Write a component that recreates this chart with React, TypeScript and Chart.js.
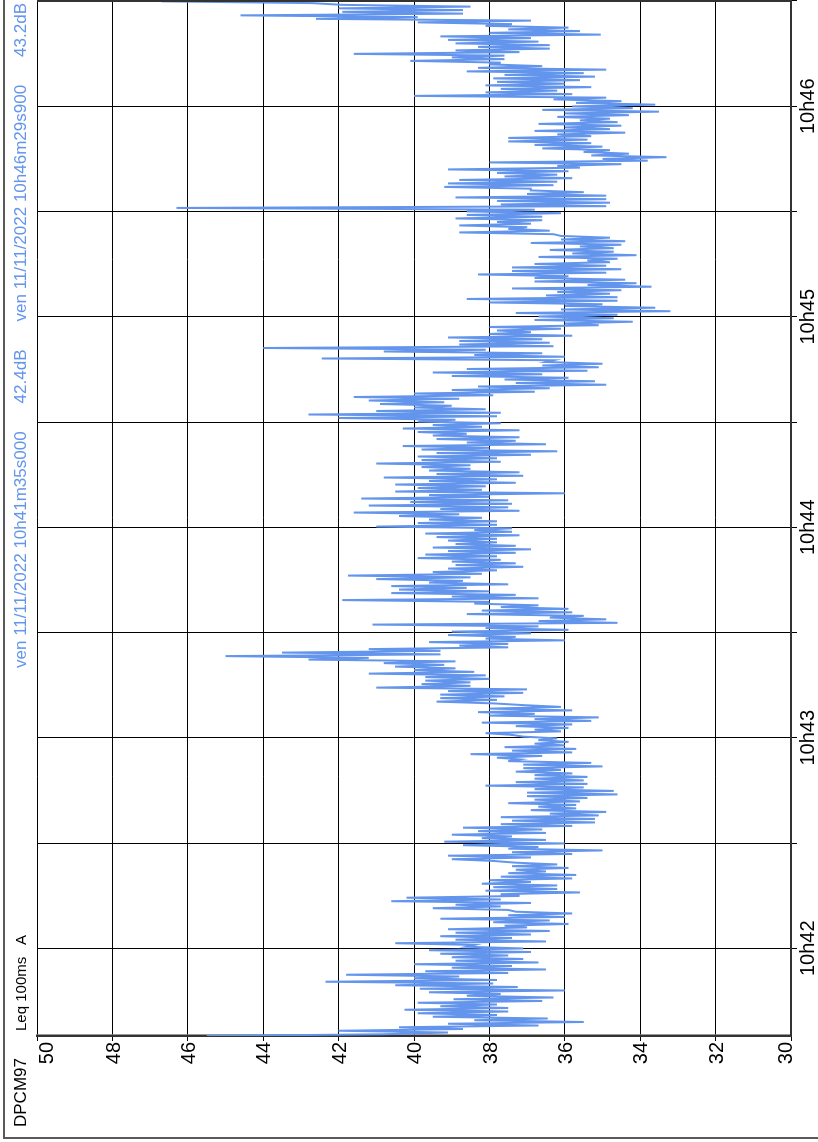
import React, { useEffect, useRef } from "react";
import { Chart, registerables } from "chart.js";

Chart.register(...registerables);

// Time axis in seconds after 10h41m00s
const START_S = 35; // 10h41m35s000
const END_S = 329.9; // 10h46m29s900
const AXIS_MIN_S = 35;
const AXIS_MAX_S = 330;

const gridSeconds = [60, 90, 120, 150, 180, 210, 240, 270, 300, 330];
const minuteSeconds = [60, 120, 180, 240, 300];
const minuteLabels = ["10h42", "10h43", "10h44", "10h45", "10h46"];

const dbTicks = [30, 32, 34, 36, 38, 40, 42, 44, 46, 48, 50];
const dbLabels = ["30", "32", "34", "36", "38", "40", "42", "44", "46", "48", "50"];

const titleStation = "DPCM97";
const titleMeasure = "Leq 100ms";
const titleWeighting = "A";
const headerPieces = [
  "ven 11/11/2022 10h41m35s000",
  "42.4dB",
  "ven 11/11/2022 10h46m29s900",
  "43.2dB",
];

// Leq (dB), newest sample first (10h46m29s900 back to 10h41m35s000)
const leq1046 = [
  46.7, 42.7, 41.9, 38.5, 42.0, 38.7, 41.9, 38.7, 44.6, 39.9, 42.6, 36.9, 39.9, 37.4, 38.1, 35.9,
  37.5, 35.6, 38.0, 35.05, 39.3, 36.9, 39.1, 36.7, 38.9, 36.4, 38.3, 36.4, 38.9, 37.2, 41.6, 37.6,
  39.0, 37.6, 40.1, 37.7, 38.0, 36.6, 38.3, 34.9, 38.6, 35.5, 37.6, 35.2, 37.9, 35.6, 37.8, 36.0,
  38.1, 35.3, 37.7, 36.2, 38.1, 35.8, 40.0, 34.9, 36.3, 34.5, 35.7, 33.6, 35.8, 34.2, 36.6, 33.5,
  36.0, 34.3, 36.2, 34.8, 35.6, 34.6, 36.7, 34.5, 36.0, 34.8, 36.8, 34.4, 36.2, 35.3, 37.5, 35.4,
];
const leq1045b = [
  37.5, 35.3, 36.8, 35.0, 36.6, 34.8, 35.5, 34.3, 35.3, 33.3, 35.0, 33.8, 38.0, 34.5, 36.2, 35.6,
  39.1, 35.9, 37.8, 36.2, 37.6, 35.8, 38.8, 36.2, 39.1, 36.3, 39.2, 36.9, 36.9, 35.5, 37.0, 34.9,
  38.9, 34.9, 37.8, 34.8, 37.7, 34.9, 46.3, 36.8, 38.6, 36.1, 38.6, 36.6, 38.9, 36.6, 37.8, 36.9,
  38.8, 37.0, 37.5, 36.4, 38.8, 36.3, 36.1, 34.8, 36.1, 34.4, 36.9, 34.5, 35.6, 34.7, 36.4, 34.7,
  35.8, 34.1, 36.7, 34.6, 35.4, 34.8, 36.8, 34.9, 37.4, 34.5, 37.4, 34.9, 38.3, 35.9, 36.8, 34.4,
];
const leq1045a = [
  36.8, 34.1, 35.4, 33.7, 37.4, 34.5, 36.2, 34.8, 36.5, 34.6, 38.6, 34.6, 38.0, 35.0, 36.0, 33.6,
  36.1, 33.2, 37.3, 34.6, 36.7, 34.7, 36.8, 34.2, 36.0, 35.1, 38.0, 36.1, 37.8, 36.9, 38.0, 35.8,
  39.1, 36.6, 38.8, 36.4, 38.8, 36.3, 44.0, 38.1, 40.8, 36.6, 38.4, 36.0, 42.45, 36.3, 36.5, 35.0,
  36.6, 35.1, 38.6, 35.4, 39.5, 36.6, 39.0, 35.9, 37.6, 35.2, 37.3, 34.9, 38.3, 36.4, 39.0, 36.8,
  40.0, 37.9, 41.6, 38.8, 41.2, 39.2, 40.9, 39.0, 40.0, 38.1, 41.0, 37.7, 42.8, 37.8, 42.0, 38.9,
];
const leq1044b = [
  39.9, 37.7, 39.5, 38.2, 40.3, 37.2, 39.9, 38.6, 39.5, 37.2, 39.4, 37.3, 38.6, 36.5, 40.3, 38.0,
  39.8, 36.2, 39.4, 36.9, 39.9, 37.8, 39.8, 37.7, 41.0, 38.5, 39.8, 38.5, 39.6, 37.2, 39.4, 37.1,
  40.8, 37.8, 39.6, 37.3, 40.5, 38.1, 39.9, 38.2, 40.5, 36.0, 39.6, 38.0, 41.4, 37.5, 40.1, 37.4,
  41.2, 37.5, 39.3, 37.2, 41.6, 38.8, 40.4, 38.2, 39.6, 37.8, 39.9, 37.8, 41.0, 37.4, 38.4, 37.4,
  39.7, 37.2, 39.4, 37.8, 39.1, 37.8, 38.9, 37.3, 39.5, 36.9, 39.1, 37.3, 39.7, 37.8, 39.9, 37.7,
];
const leq1044a = [
  39.0, 37.3, 38.9, 37.1, 39.1, 37.8, 39.5, 38.2, 41.75, 38.5, 41.0, 38.7, 39.6, 37.5, 40.6, 38.6,
  40.4, 38.0, 40.6, 37.3, 39.0, 36.7, 41.9, 38.0, 38.4, 36.7, 37.7, 35.9, 38.2, 35.8, 38.6, 35.5,
  36.4, 34.9, 36.7, 34.6, 41.1, 36.7, 38.1, 35.9, 39.0, 36.9, 39.1, 37.3, 38.1, 36.0, 39.6, 37.5,
  38.8, 37.5, 41.2, 39.3, 43.5, 39.3, 45.0, 41.2, 42.8, 38.9, 40.8, 39.2, 40.5, 38.9, 40.0, 38.4,
  41.2, 38.1, 39.7, 38.0, 39.7, 38.5, 39.8, 38.5, 41.0, 37.0, 39.1, 37.1, 39.3, 37.6, 39.3, 37.8,
];
const leq1043 = [
  39.4, 37.9, 37.1, 36.1, 38.0, 35.8, 38.3, 36.8, 38.0, 35.1, 36.8, 35.3, 38.2, 35.8, 37.3, 35.9,
  36.8, 36.1, 38.1, 37.4, 37.1, 36.2, 36.7, 35.9, 36.8, 36.0, 37.6, 35.7, 37.4, 35.8, 38.5, 36.6,
  37.8, 37.2, 37.5, 35.3, 37.1, 35.0, 37.1, 36.1, 37.3, 35.8, 36.8, 35.4, 36.8, 35.5, 37.3, 35.4,
  38.1, 35.5, 36.8, 34.7, 37.0, 34.6, 37.0, 35.4, 36.8, 35.6, 37.5, 35.7, 36.7, 35.7, 36.9, 34.9,
  36.4, 35.1, 37.7, 35.2, 37.4, 35.2, 37.7, 35.8, 38.7, 36.6, 38.3, 36.5, 39.0, 37.4, 38.2, 36.5,
];
const leq1042 = [
  39.2, 36.0, 38.7, 36.7, 37.5, 35.0, 37.4, 35.8, 39.1, 36.9, 39.0, 37.9, 37.3, 36.2, 37.4, 35.9,
  37.3, 36.5, 37.5, 35.7, 37.7, 35.8, 38.0, 36.9, 38.2, 36.2, 37.9, 36.2, 38.1, 35.6, 37.7, 37.2,
  40.2, 37.7, 40.6, 36.9, 38.9, 37.7, 39.5, 37.5, 37.3, 35.8, 37.5, 36.0, 39.3, 36.4, 37.9, 35.9,
  37.6, 37.0, 39.1, 36.4, 38.9, 36.9, 39.3, 37.4, 38.9, 36.5, 40.5, 38.4, 38.6, 37.1, 39.6, 36.9,
  39.3, 37.5, 39.0, 37.1, 38.9, 36.7, 40.0, 37.4, 39.0, 36.5, 39.7, 37.5, 41.8, 38.8, 40.0, 37.8,
];
const leq1041 = [
  42.35, 37.9, 40.5, 37.25, 39.85, 36.0, 39.6, 37.7, 38.6, 36.3, 38.95, 36.6, 39.9, 37.8, 39.3, 37.5,
  40.25, 37.5, 39.9, 37.8, 39.5, 36.45, 38.4, 35.5, 39.1, 36.7, 40.4, 38.7, 42.0, 39.1, 40.8, 45.5,
];

const leqNewestFirst = [
  ...leq1046, ...leq1045b, ...leq1045a, ...leq1044b, ...leq1044a, ...leq1043, ...leq1042, ...leq1041,
];

const FONT = "'Liberation Sans', Arial, Helvetica, sans-serif";
const BLUE = "#6495ED";

const decorPlugin = {
  id: "decor",
  beforeDraw(chart: any) {
    const { ctx, width, height } = chart;
    ctx.save();
    ctx.fillStyle = "#ffffff";
    ctx.fillRect(0, 0, width, height);
    ctx.restore();
  },
  afterDraw(chart: any) {
    const { ctx, chartArea, scales } = chart;
    const x = scales.x;
    const y = scales.y;
    ctx.save();

    // outer frame
    ctx.strokeStyle = "#5a5a5a";
    ctx.lineWidth = 2;
    ctx.beginPath();
    ctx.moveTo(4, chart.height + 10);
    ctx.lineTo(4, 4);
    ctx.lineTo(chart.width + 10, 4);
    ctx.stroke();

    // right edge of plot
    ctx.strokeStyle = "#333";
    ctx.lineWidth = 2;
    ctx.beginPath();
    ctx.moveTo(chartArea.right, chartArea.top);
    ctx.lineTo(chartArea.right, chartArea.bottom);
    ctx.stroke();

    // dB labels
    ctx.fillStyle = "#000";
    ctx.font = `20px ${FONT}`;
    ctx.textAlign = "right";
    ctx.textBaseline = "alphabetic";
    dbTicks.forEach((v, i) => {
      const py = y.getPixelForValue(v);
      let base = py + 7.2;
      if (v === dbTicks[dbTicks.length - 1]) base = py + 15.5;
      if (v === dbTicks[0]) base = py + 0.5;
      ctx.fillText(dbLabels[i], chartArea.left - 6, base);
    });

    // time labels
    ctx.textAlign = "center";
    minuteSeconds.forEach((s, i) => {
      const px = x.getPixelForValue(s);
      ctx.fillText(minuteLabels[i], px, chartArea.bottom + 23);
    });

    // header
    ctx.textAlign = "left";
    ctx.font = `17px ${FONT}`;
    ctx.fillStyle = "#000";
    ctx.fillText(titleStation, 15, 26);
    ctx.font = `15px ${FONT}`;
    ctx.fillText(titleMeasure, 111, 26);
    ctx.fillText(titleWeighting, 197, 26);

    ctx.fillStyle = BLUE;
    ctx.font = `17px ${FONT}`;
    const widths = headerPieces.map((p) => ctx.measureText(p).width);
    const startX = 474;
    const endX = 1139;
    const total = widths.reduce((a, b) => a + b, 0);
    const gap = (endX - startX - total) / (headerPieces.length - 1);
    let cx = startX;
    headerPieces.forEach((p, i) => {
      ctx.fillText(p, cx, 26);
      cx += widths[i] + gap;
    });

    ctx.restore();
  },
};

export default function App() {
  const ref = useRef<HTMLCanvasElement | null>(null);

  useEffect(() => {
    if (!ref.current) return;
    const n = leqNewestFirst.length;
    const dt = (END_S - START_S) / (n - 1);
    const points = leqNewestFirst.map((v, i) => ({ x: END_S - i * dt, y: v }));

    const chart = new Chart(ref.current, {
      type: "line",
      data: {
        datasets: [
          {
            data: points,
            borderColor: BLUE,
            borderWidth: 2,
            pointRadius: 0,
            tension: 0,
            fill: false,
          },
        ],
      },
      options: {
        responsive: false,
        animation: false,
        devicePixelRatio: 1,
        layout: { padding: { top: 37, right: 1, left: 0, bottom: 0 } },
        plugins: { legend: { display: false }, tooltip: { enabled: false } },
        events: [],
        scales: {
          x: {
            type: "linear",
            min: AXIS_MIN_S,
            max: AXIS_MAX_S,
            z: 1,
            afterBuildTicks: (scale: any) => {
              scale.ticks = gridSeconds.map((v) => ({ value: v }));
            },
            afterFit: (scale: any) => {
              scale.height = 27;
            },
            ticks: { display: false, autoSkip: false },
            grid: { color: "#000", lineWidth: 1, drawTicks: true, tickLength: 6, tickColor: "#000" },
            border: { display: true, color: "#333", width: 2 },
          },
          y: {
            type: "linear",
            min: 30,
            max: 50,
            z: 1,
            afterBuildTicks: (scale: any) => {
              scale.ticks = dbTicks.map((v) => ({ value: v }));
            },
            afterFit: (scale: any) => {
              scale.width = 106;
            },
            ticks: { display: false, autoSkip: false },
            grid: { color: "#000", lineWidth: 1, drawTicks: true, tickLength: 5, tickColor: "#000" },
            border: { display: true, color: "#333", width: 2.5 },
          },
        },
      },
      plugins: [decorPlugin],
    });
    return () => chart.destroy();
  }, []);

  return (
    <div
      style={{
        position: "fixed",
        left: 0,
        top: 0,
        width: 818,
        height: 1142,
        overflow: "hidden",
        background: "#fff",
      }}
    >
      <div
        style={{
          position: "absolute",
          left: 0,
          top: 0,
          width: 1142,
          height: 818,
          transformOrigin: "0 0",
          transform: "translateY(1142px) rotate(-90deg)",
        }}
      >
        <canvas ref={ref} width={1142} height={818} style={{ display: "block", width: 1142, height: 818 }} />
      </div>
    </div>
  );
}
